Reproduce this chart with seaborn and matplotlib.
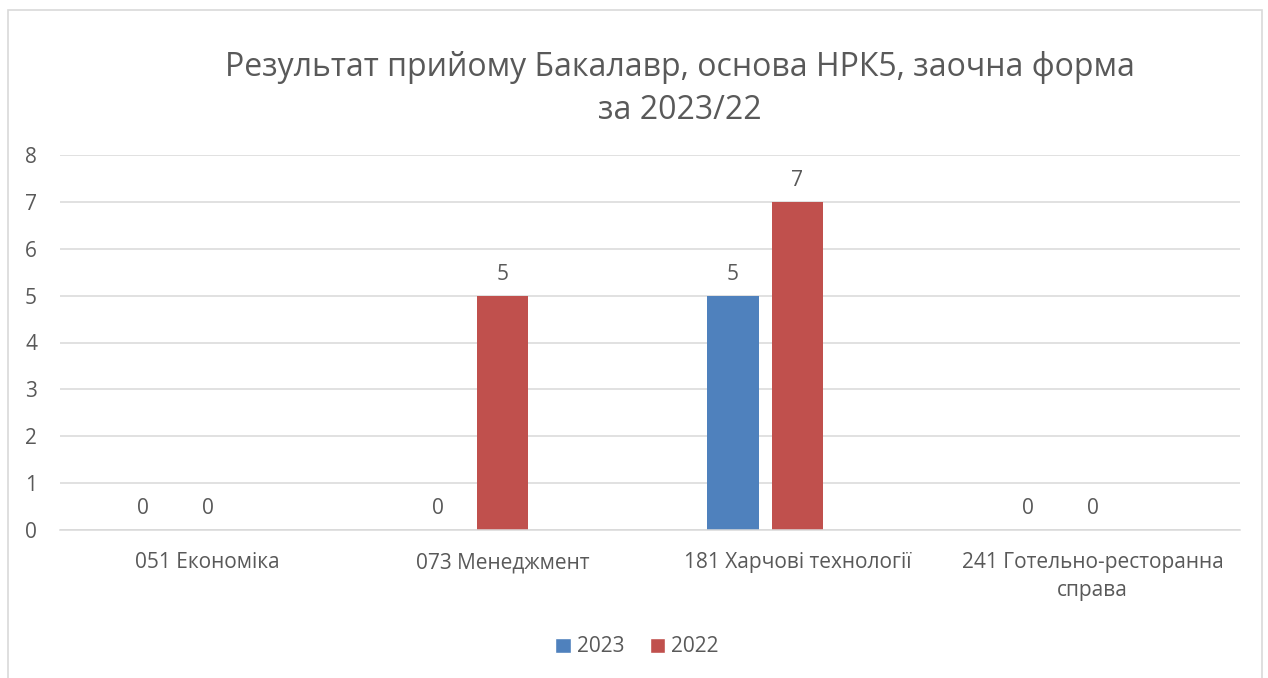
import matplotlib
matplotlib.use("Agg")
import matplotlib.pyplot as plt
import seaborn as sns
import pandas as pd
import numpy as np
from matplotlib.patches import Rectangle, Patch

categories = ["051 Економіка", "073 Менеджмент", "181 Харчові технології", "241 Готельно-ресторанна\nсправа"]
series_names = ["2023", "2022"]
values_2023 = [0, 0, 5, 0]
values_2022 = [0, 5, 7, 0]
hidden_slot = "_slot3"
colors = {"2023": "#4F81BD", "2022": "#C0504D", hidden_slot: "#FFFFFF"}
title = "Результат прийому Бакалавр, основа НРК5, заочна форма\nза 2023/22"

sns.set_theme(style="white")
plt.rcParams['font.family'] = ['Open Sans', 'DejaVu Sans']
TXT = "#595959"

df = pd.DataFrame({
    "cat": categories * 2,
    "year": ["2023"] * 4 + ["2022"] * 4,
    "val": values_2023 + values_2022,
})

fig = plt.figure(figsize=(12.68, 6.78), dpi=100)
ax = fig.add_axes([60/1268, 148/678, 1180/1268, 375/678])

sns.barplot(data=df, x="cat", y="val", hue="year", order=categories,
            hue_order=["2023", "2022", hidden_slot], palette=colors,
            width=0.66, gap=0.2, errorbar=None, ax=ax, legend=False, saturation=1,
            linewidth=0)

ax.set_ylim(0, 8)
ax.set_xlim(-0.5, 3.5)
ax.set_yticks(range(0, 9))
ax.yaxis.grid(True, color="#D9D9D9", linewidth=1.1)
ax.set_axisbelow(True)
for s in ax.spines.values():
    s.set_visible(False)
ax.spines["bottom"].set_visible(True)
ax.spines["bottom"].set_color("#D9D9D9")
ax.spines["bottom"].set_linewidth(1.1)
ax.tick_params(axis="both", length=0, colors=TXT, labelsize=15)
ax.tick_params(axis="y", pad=16.5)
ax.tick_params(axis="x", pad=16)
ax.set_xlabel("")
ax.set_ylabel("")
for lbl in ax.get_xticklabels():
    lbl.set_color(TXT)
    lbl.set_multialignment("center")
    lbl.set_linespacing(1.45)

for cont in ax.containers:
    ax.bar_label(cont, fmt="%d", padding=8, color=TXT, fontsize=15)

fig.text(680/1268, 1 - 89/678, title, ha="center", va="center", fontsize=23,
         color=TXT, linespacing=1.38)

handles = [Patch(facecolor=colors[s], label=s) for s in series_names]
fig.legend(handles=handles, loc="center", bbox_to_anchor=(637/1268, 1 - 647/678),
           ncol=2, frameon=False, fontsize=15, labelcolor=TXT,
           handlelength=0.75, handleheight=0.75, handletextpad=0.3, columnspacing=1.2)

fig.patches.append(Rectangle((8/1268, -0.02), 1254/1268, 1.02 - 10/678,
                             transform=fig.transFigure, fill=False,
                             edgecolor="#D9D9D9", linewidth=1.2))

fig.savefig("out.png", dpi=100)
